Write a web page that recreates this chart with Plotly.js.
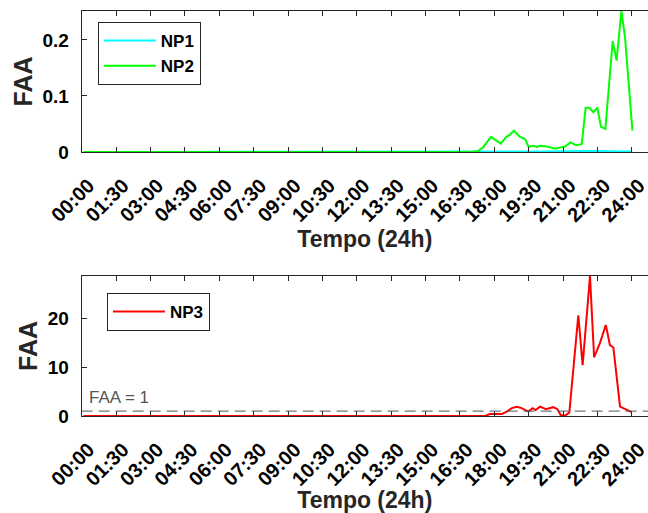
<!DOCTYPE html>
<html>
<head>
<meta charset="utf-8">
<script src="https://cdn.plot.ly/plotly-3.0.1.min.js"></script>
<style>
  html, body { margin: 0; padding: 0; background: #fff; }
  #chart { width: 648px; height: 513px; }
</style>
</head>
<body>
<div id="chart"></div>
<script>
// Tick labels (hours of the day)
const tickHours = [0, 1.5, 3, 4.5, 6, 7.5, 9, 10.5, 12, 13.5, 15, 16.5, 18, 19.5, 21, 22.5, 24];
const tickLabels = ["00:00","01:30","03:00","04:30","06:00","07:30","09:00","10:30","12:00","13:30","15:00","16:30","18:00","19:30","21:00","22:30","24:00"];

// NP1 (hours, FAA)
const np1Time = [0.08, 17.0, 18.0, 20.0, 22.0, 23.0, 24.0];
const np1Val  = [0, 0, 0.001, 0.001, 0.002, 0.002, 0.001];

// NP2 (hours, FAA)
const np2Time = [0.08, 17.0, 17.3, 17.52, 17.85, 18.05, 18.28, 18.52, 18.65, 18.85, 19.12, 19.34, 19.49, 19.70, 19.85, 20.0, 20.28, 20.65, 20.94, 21.09, 21.33, 21.56, 21.81, 21.98, 22.14, 22.32, 22.49, 22.65, 22.84, 23.16, 23.33, 23.54, 23.70, 24.02];
const np2Val  = [0, 0, 0.002, 0.009, 0.027, 0.022, 0.015, 0.027, 0.030, 0.038, 0.027, 0.023, 0.009, 0.011, 0.009, 0.011, 0.010, 0.006, 0.008, 0.010, 0.017, 0.012, 0.014, 0.079, 0.079, 0.071, 0.079, 0.045, 0.041, 0.198, 0.163, 0.2515, 0.204, 0.038];

// NP3 (hours, FAA)
const np3Time = [0.08, 17.6, 17.8, 18.32, 18.54, 18.76, 18.97, 19.19, 19.48, 19.67, 19.80, 19.99, 20.25, 20.57, 20.75, 20.89, 21.08, 21.27, 21.66, 21.85, 22.17, 22.35, 22.61, 22.86, 23.04, 23.19, 23.48, 23.70, 23.99];
const np3Val  = [0, 0, 0.4, 0.4, 0.9, 1.6, 1.9, 1.6, 0.9, 1.6, 1.2, 1.9, 1.4, 1.8, 1.4, 0.2, 0.1, 0.7, 20.6, 10.4, 28.6, 12.0, 15.0, 18.6, 14.5, 14.0, 1.9, 1.4, 0.8];

// Reference threshold
const threshold = 1;
const thresholdLabel = "FAA = 1";

const FONT = "Liberation Sans, Arial, Helvetica, sans-serif";
const INK = "#262626";

const traces = [
  { x: np1Time, y: np1Val, name: "NP1", type: "scatter", mode: "lines",
    line: { color: "#00FFFF", width: 2 }, xaxis: "x", yaxis: "y", legend: "legend" },
  { x: np2Time, y: np2Val, name: "NP2", type: "scatter", mode: "lines",
    line: { color: "#00FF00", width: 2 }, xaxis: "x", yaxis: "y", legend: "legend" },
  { x: np3Time, y: np3Val, name: "NP3", type: "scatter", mode: "lines",
    line: { color: "#FF0000", width: 2 }, xaxis: "x2", yaxis: "y2", legend: "legend2" }
];

function xAxis(anchor) {
  return {
    anchor: anchor,
    domain: [0.126, 1],
    range: [0, 24.7],
    tickmode: "array",
    tickvals: tickHours,
    ticktext: tickLabels,
    tickangle: -45,
    ticks: "inside",
    ticklen: 5,
    tickcolor: INK,
    showline: true,
    linecolor: INK,
    linewidth: 1,
    mirror: "ticks",
    showgrid: false,
    zeroline: false,
    automargin: false,
    ticklabeloverflow: "allow",
    ticklabelstandoff: 13,
    ticklabelshift: 7,
    tickfont: { family: FONT, size: 20, color: "#000", weight: "bold" },
    title: { text: "Tempo (24h)", standoff: 0, font: { family: FONT, size: 23, color: INK, weight: "bold" } }
  };
}
function yAxis(anchor, domain, range, vals, text) {
  return {
    anchor: anchor,
    domain: domain,
    range: range,
    tickmode: "array",
    tickvals: vals,
    ticktext: text,
    ticks: "inside",
    ticklen: 5,
    tickcolor: INK,
    showline: true,
    linecolor: INK,
    linewidth: 1,
    mirror: false,
    showgrid: false,
    zeroline: false,
    automargin: false,
    ticklabelstandoff: 8,
    tickfont: { family: FONT, size: 19, color: "#000", weight: "bold" },
    title: { text: "FAA", standoff: 2, font: { family: FONT, size: 25, color: INK, weight: "bold" } }
  };
}

const layout = {
  width: 648, height: 513,
  margin: { l: 0, r: 0, t: 0, b: 0 },
  paper_bgcolor: "#fff",
  plot_bgcolor: "#fff",
  font: { family: FONT, color: INK },
  xaxis: xAxis("y"),
  yaxis: yAxis("x", [0.7037, 0.9786], [0, 0.2515], [0, 0.1, 0.2], ["0", "0.1", "0.2"]),
  xaxis2: xAxis("y2"),
  yaxis2: yAxis("x2", [0.1891, 0.462], [0, 28.62], [0, 10, 20], ["0", "10", "20"]),
  legend: {
    x: 0.151, y: 0.957, xanchor: "left", yanchor: "top",
    bgcolor: "#fff", bordercolor: INK, borderwidth: 1,
    font: { family: FONT, size: 17, color: "#000", weight: "bold" },
    itemwidth: 52, tracegroupgap: 0
  },
  legend2: {
    x: 0.165, y: 0.4288, xanchor: "left", yanchor: "top",
    bgcolor: "#fff", bordercolor: INK, borderwidth: 1,
    font: { family: FONT, size: 17, color: "#000", weight: "bold" },
    itemwidth: 52
  },
  shapes: [
    { type: "line", xref: "x2 domain", x0: 0, x1: 1, yref: "y2", y0: threshold, y1: threshold,
      line: { color: "#555555", width: 1, dash: "11px,6px" } }
  ],
  annotations: [
    { xref: "x2 domain", x: 0.01, yref: "y2", y: threshold, xanchor: "left", yanchor: "bottom",
      yshift: 2, showarrow: false, text: thresholdLabel,
      font: { family: FONT, size: 17, color: "#555555" } }
  ],
  showlegend: true
};

Plotly.newPlot("chart", traces, layout, { staticPlot: true, displayModeBar: false });
</script>
</body>
</html>
